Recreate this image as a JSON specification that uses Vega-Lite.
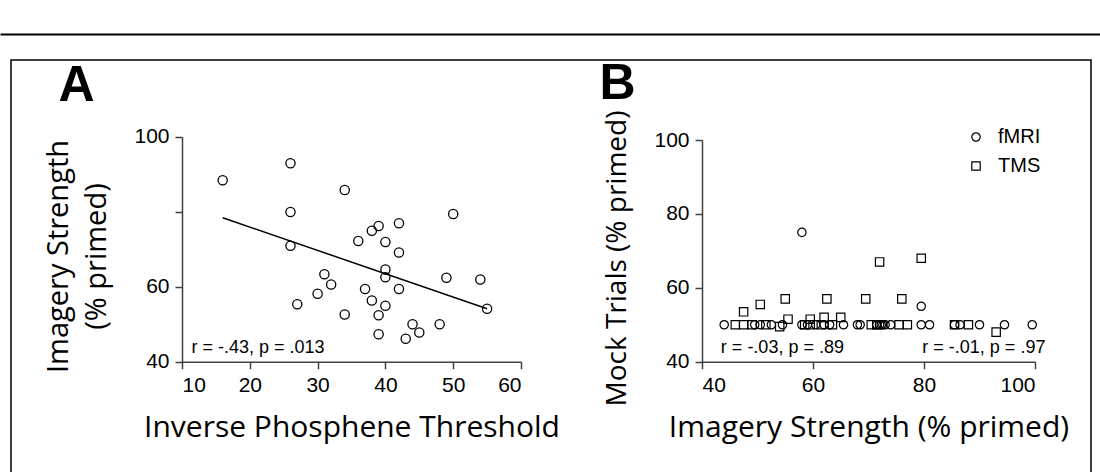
{
  "$schema": "https://vega.github.io/schema/vega-lite/v6.json",
  "width": 1080,
  "height": 440,
  "autosize": {"type": "none"},
  "padding": {"left": 11, "top": 60, "right": 9, "bottom": 0},
  "background": "white",
  "config": {
    "view": {"stroke": "black", "strokeWidth": 1.5},
    "font": "Liberation Sans",
    "axis": {
      "grid": false,
      "domainColor": "#404040",
      "domainWidth": 1.5,
      "tickColor": "#404040",
      "tickWidth": 1.5,
      "tickSize": 7,
      "labelFont": "Liberation Sans",
      "labelFontSize": 21,
      "labelColor": "black",
      "labelPadding": 6,
      "titleFont": "Open Sans",
      "titleFontSize": 30,
      "titleFontWeight": "normal",
      "titleColor": "black"
    },
    "legend": {"labelFont": "Liberation Sans", "labelFontSize": 20, "labelColor": "black"}
  },
  "datasets": {
    "phosphene": [
      {"threshold": 16, "imagery": 88.4}, {"threshold": 26, "imagery": 92.9},
      {"threshold": 34, "imagery": 85.8}, {"threshold": 26, "imagery": 79.9},
      {"threshold": 50, "imagery": 79.4}, {"threshold": 42, "imagery": 76.9},
      {"threshold": 39, "imagery": 76.2}, {"threshold": 38, "imagery": 74.9},
      {"threshold": 36, "imagery": 72.2}, {"threshold": 40, "imagery": 71.9},
      {"threshold": 26, "imagery": 70.9}, {"threshold": 42, "imagery": 69.1},
      {"threshold": 40, "imagery": 64.6}, {"threshold": 40, "imagery": 62.5},
      {"threshold": 31, "imagery": 63.3}, {"threshold": 32, "imagery": 60.6},
      {"threshold": 30, "imagery": 58.1}, {"threshold": 37, "imagery": 59.4},
      {"threshold": 42, "imagery": 59.4}, {"threshold": 49, "imagery": 62.4},
      {"threshold": 54, "imagery": 61.9}, {"threshold": 55, "imagery": 54.1},
      {"threshold": 27, "imagery": 55.3}, {"threshold": 38, "imagery": 56.3},
      {"threshold": 40, "imagery": 54.9}, {"threshold": 34, "imagery": 52.6},
      {"threshold": 39, "imagery": 52.4}, {"threshold": 44, "imagery": 50.0},
      {"threshold": 48, "imagery": 50.0}, {"threshold": 45, "imagery": 47.8},
      {"threshold": 39, "imagery": 47.3}, {"threshold": 43, "imagery": 46.1}
    ],
    "fitA": [
      {"threshold": 16, "imagery": 78.4},
      {"threshold": 55, "imagery": 54.1}
    ],
    "mock": [
      {"study": "fMRI", "imagery": 58, "mock": 75},
      {"study": "fMRI", "imagery": 79.5, "mock": 55},
      {"study": "fMRI", "imagery": 44, "mock": 50},
      {"study": "fMRI", "imagery": 49.5, "mock": 50},
      {"study": "fMRI", "imagery": 50.5, "mock": 50},
      {"study": "fMRI", "imagery": 52.5, "mock": 50},
      {"study": "fMRI", "imagery": 54.5, "mock": 50},
      {"study": "fMRI", "imagery": 58, "mock": 50},
      {"study": "fMRI", "imagery": 59, "mock": 50},
      {"study": "fMRI", "imagery": 60.5, "mock": 50},
      {"study": "fMRI", "imagery": 62, "mock": 50},
      {"study": "fMRI", "imagery": 63, "mock": 50},
      {"study": "fMRI", "imagery": 65.5, "mock": 50},
      {"study": "fMRI", "imagery": 68, "mock": 50},
      {"study": "fMRI", "imagery": 68.5, "mock": 50},
      {"study": "fMRI", "imagery": 71.5, "mock": 50},
      {"study": "fMRI", "imagery": 72, "mock": 50},
      {"study": "fMRI", "imagery": 72.3, "mock": 50},
      {"study": "fMRI", "imagery": 72.6, "mock": 50},
      {"study": "fMRI", "imagery": 73, "mock": 50},
      {"study": "fMRI", "imagery": 74, "mock": 50},
      {"study": "fMRI", "imagery": 79.5, "mock": 50},
      {"study": "fMRI", "imagery": 81, "mock": 50},
      {"study": "fMRI", "imagery": 85.5, "mock": 50},
      {"study": "fMRI", "imagery": 86.5, "mock": 50},
      {"study": "fMRI", "imagery": 90, "mock": 50},
      {"study": "fMRI", "imagery": 94.5, "mock": 50},
      {"study": "fMRI", "imagery": 99.5, "mock": 50},
      {"study": "TMS", "imagery": 72, "mock": 67},
      {"study": "TMS", "imagery": 79.5, "mock": 68},
      {"study": "TMS", "imagery": 47.5, "mock": 53.5},
      {"study": "TMS", "imagery": 50.5, "mock": 55.5},
      {"study": "TMS", "imagery": 55, "mock": 57},
      {"study": "TMS", "imagery": 55.5, "mock": 51.5},
      {"study": "TMS", "imagery": 62.5, "mock": 57},
      {"study": "TMS", "imagery": 69.5, "mock": 57},
      {"study": "TMS", "imagery": 76, "mock": 57},
      {"study": "TMS", "imagery": 59.5, "mock": 51.5},
      {"study": "TMS", "imagery": 62, "mock": 52},
      {"study": "TMS", "imagery": 65, "mock": 52},
      {"study": "TMS", "imagery": 93, "mock": 48},
      {"study": "TMS", "imagery": 54, "mock": 49.5},
      {"study": "TMS", "imagery": 46, "mock": 50},
      {"study": "TMS", "imagery": 47.5, "mock": 50},
      {"study": "TMS", "imagery": 49, "mock": 50},
      {"study": "TMS", "imagery": 51.5, "mock": 50},
      {"study": "TMS", "imagery": 58.5, "mock": 50},
      {"study": "TMS", "imagery": 59.5, "mock": 50},
      {"study": "TMS", "imagery": 61.5, "mock": 50},
      {"study": "TMS", "imagery": 63.5, "mock": 50},
      {"study": "TMS", "imagery": 70.5, "mock": 50},
      {"study": "TMS", "imagery": 71.5, "mock": 50},
      {"study": "TMS", "imagery": 75.5, "mock": 50},
      {"study": "TMS", "imagery": 77, "mock": 50},
      {"study": "TMS", "imagery": 85.5, "mock": 50},
      {"study": "TMS", "imagery": 88, "mock": 50}
    ]
  },
  "layer": [
    {
      "data": {"values": [{"u": 0}, {"u": 1}]},
      "mark": {"type": "point", "opacity": 0},
      "encoding": {
        "x": {
          "field": "u", "type": "quantitative",
          "scale": {"domain": [0, 1], "range": [-11, 1089], "nice": false, "zero": false},
          "axis": {"orient": "top", "offset": 26, "labels": false, "ticks": false, "title": null, "domainColor": "black", "domainWidth": 2}
        }
      }
    },
    {
      "layer": [
        {
          "data": {"name": "phosphene"},
          "mark": {"type": "point", "shape": "circle", "filled": false, "color": "black", "size": 85, "strokeWidth": 1.3, "opacity": 1},
          "encoding": {
            "x": {
              "field": "threshold", "type": "quantitative",
              "scale": {"domain": [10, 60], "range": [171, 510], "nice": false, "zero": false},
              "axis": {"orient": "bottom", "offset": -138.3, "values": [10, 20, 30, 40, 50, 60], "title": "Inverse Phosphene Threshold", "titlePadding": 17}
            },
            "y": {
              "field": "imagery", "type": "quantitative",
              "scale": {"domain": [40, 100], "range": [301.7, 76.7], "nice": false, "zero": false},
              "axis": {"orient": "left", "offset": -171, "values": [40, 60, 80, 100], "labelExpr": "datum.value == 80 ? '' : datum.label", "title": ["Imagery Strength", "(% primed)"], "titlePadding": 22, "titleLineHeight": 38, "titleFontSize": 29, "titleY": 196}
            }
          }
        },
        {
          "data": {"name": "fitA"},
          "mark": {"type": "line", "color": "black", "strokeWidth": 1.5},
          "encoding": {
            "x": {
              "field": "threshold", "type": "quantitative",
              "axis": {"orient": "top", "labels": false, "ticks": false, "domain": false, "title": "A", "titleFont": "Liberation Sans", "titleFontSize": 50, "titleFontWeight": "bold", "titleX": 65, "titleY": 40, "titleAlign": "center", "titleBaseline": "alphabetic"}
            },
            "y": {"field": "imagery", "type": "quantitative"}
          }
        },
        {
          "data": {"values": [{"stat": "r = -.43, p = .013"}]},
          "mark": {"type": "text", "align": "left", "baseline": "alphabetic", "fontSize": 18, "color": "black"},
          "encoding": {
            "x": {"datum": 11.4, "type": "quantitative", "axis": null},
            "y": {"datum": 42.2, "type": "quantitative"},
            "text": {"field": "stat"}
          }
        }
      ],
      "resolve": {"axis": {"x": "independent"}}
    },
    {
      "layer": [
        {
          "data": {"name": "mock"},
          "mark": {"type": "point", "filled": false, "color": "black", "size": 70, "strokeWidth": 1.2, "opacity": 1},
          "encoding": {
            "x": {
              "field": "imagery", "type": "quantitative",
              "scale": {"domain": [40, 100], "range": [691, 1024], "nice": false, "zero": false},
              "axis": {"orient": "bottom", "offset": -138.3, "values": [40, 60, 80, 100], "title": "Imagery Strength (% primed)", "titlePadding": 17}
            },
            "y": {
              "field": "mock", "type": "quantitative",
              "scale": {"domain": [40, 100], "range": [301.7, 80], "nice": false, "zero": false},
              "axis": {"orient": "left", "offset": -691, "values": [40, 60, 80, 100], "title": "Mock Trials (% primed)", "titlePadding": 22, "titleFontSize": 28, "titleY": 198}
            },
            "shape": {
              "field": "study", "type": "nominal",
              "scale": {"domain": ["fMRI", "TMS"], "range": ["circle", "square"]},
              "legend": {"orient": "none", "legendX": 955, "legendY": 67, "title": null, "labelFont": "Liberation Sans", "labelFontSize": 20, "labelColor": "black", "symbolSize": 70, "symbolStrokeWidth": 1.2, "symbolStrokeColor": "black", "rowPadding": 9, "labelOffset": 12}
            }
          }
        },
        {
          "data": {"values": [{"stat": "r = -.03, p = .89"}]},
          "mark": {"type": "text", "align": "left", "baseline": "alphabetic", "fontSize": 18, "color": "black"},
          "encoding": {
            "x": {"datum": 43.4, "type": "quantitative", "axis": {"orient": "top", "labels": false, "ticks": false, "domain": false, "title": "B", "titleFont": "Liberation Sans", "titleFontSize": 50, "titleFontWeight": "bold", "titleX": 606, "titleY": 38, "titleAlign": "center", "titleBaseline": "alphabetic"}},
            "y": {"datum": 42.3, "type": "quantitative"},
            "text": {"field": "stat"}
          }
        },
        {
          "data": {"values": [{"stat": "r = -.01, p = .97"}]},
          "mark": {"type": "text", "align": "left", "baseline": "alphabetic", "fontSize": 18, "color": "black"},
          "encoding": {
            "x": {"datum": 79.7, "type": "quantitative", "axis": null},
            "y": {"datum": 42.3, "type": "quantitative"},
            "text": {"field": "stat"}
          }
        }
      ],
      "resolve": {"axis": {"x": "independent"}}
    }
  ],
  "resolve": {"scale": {"x": "independent", "y": "independent", "shape": "independent"}}
}
